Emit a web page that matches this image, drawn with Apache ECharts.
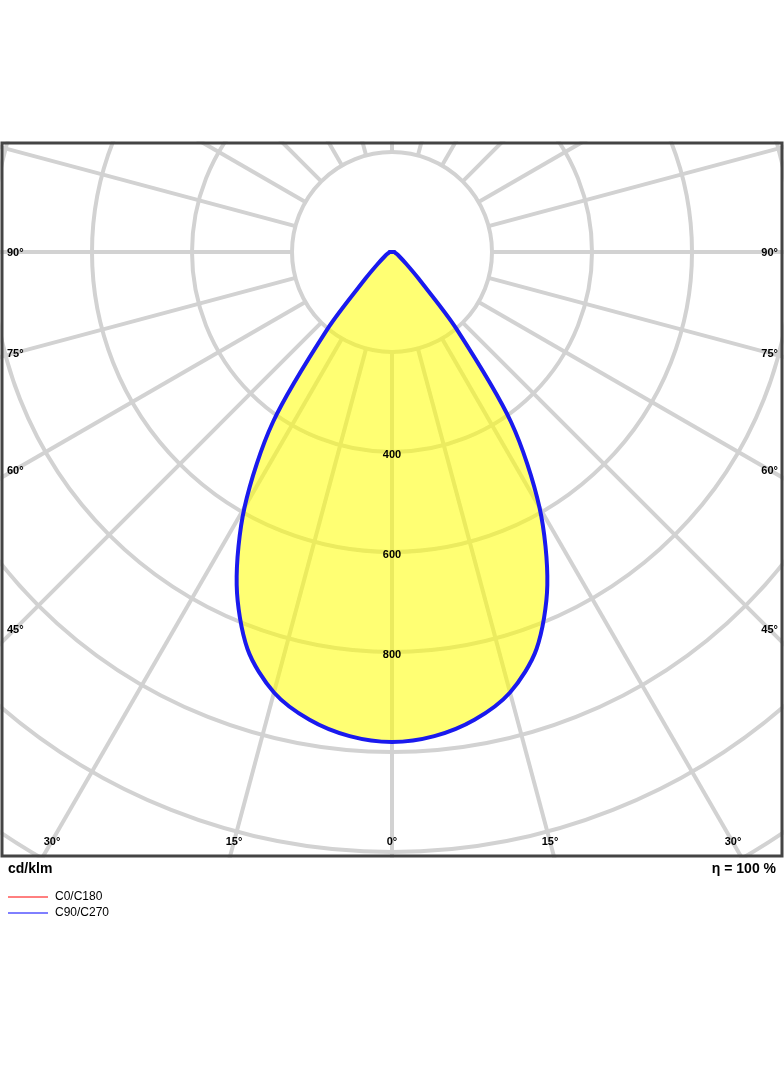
<!DOCTYPE html>
<html>
<head>
<meta charset="utf-8">
<script src="https://cdn.jsdelivr.net/npm/echarts@6/dist/echarts.min.js"></script>
<style>
  html, body { margin: 0; padding: 0; background: #fff; }
  #chart { width: 784px; height: 1066px; }
</style>
</head>
<body>
<div id="chart"></div>
<script>
// 光强分布 (cd/klm)，角度从竖直向下算起
const angles = [0, 5, 10, 15, 20, 25, 30, 35, 40, 45, 50, 60, 70, 80, 90];
const c90Values = [980, 972, 950, 912, 845, 735, 590, 415, 200, 75, 38, 16, 9, 6, 5];
const radiusLabels = [400, 600, 800];
const spokeAngles = [0, 15, 30, 45, 60, 75, 90, 105, 120, 135, 150, 165, 180, 195, 210, 225, 240, 255, 270, 285, 300, 315, 330, 345];
// 边框上的角度标签
const sideLabels = [['90°', 253], ['75°', 354], ['60°', 471], ['45°', 630]];
const bottomLabels = [['30°', 52], ['15°', 234], ['0°', 392], ['15°', 550], ['30°', 733]];

const chart = echarts.init(document.getElementById('chart'));
const font = 'Liberation Sans, Arial, sans-serif';
const gridColor = '#d2d2d2';

// 曲线两侧对称：左侧 a，右侧 360 - a
const curve = [];
for (let i = angles.length - 1; i >= 0; i--) curve.push([c90Values[i], angles[i]]);
for (let i = 1; i < angles.length; i++) curve.push([c90Values[i], 360 - angles[i]]);

const graphics = [
  // 边框外遮罩
  { type: 'rect', z: 100, shape: { x: 0, y: 0, width: 784, height: 141.5 }, style: { fill: '#fff' } },
  { type: 'rect', z: 100, shape: { x: 0, y: 857.5, width: 784, height: 210 }, style: { fill: '#fff' } },
  { type: 'rect', z: 100, shape: { x: 0, y: 0, width: 0.5, height: 1066 }, style: { fill: '#fff' } },
  { type: 'rect', z: 100, shape: { x: 783.5, y: 0, width: 1, height: 1066 }, style: { fill: '#fff' } },
  { type: 'rect', z: 101, shape: { x: 2, y: 143, width: 780, height: 713 }, style: { fill: 'none', stroke: '#444', lineWidth: 3 } },
  { type: 'text', z: 101, left: 8, top: 862, style: { text: 'cd/klm', font: 'bold 14px ' + font, fill: '#000' } },
  { type: 'text', z: 101, right: 8, top: 862, style: { text: 'η = 100 %', font: 'bold 14px ' + font, fill: '#000' } },
  { type: 'line', z: 101, shape: { x1: 8, y1: 897, x2: 48, y2: 897 }, style: { stroke: '#ff0000', lineWidth: 1 } },
  { type: 'text', z: 101, left: 55, top: 891, style: { text: 'C0/C180', font: '12px ' + font, fill: '#000' } },
  { type: 'line', z: 101, shape: { x1: 8, y1: 913, x2: 48, y2: 913 }, style: { stroke: '#0000ff', lineWidth: 1 } },
  { type: 'text', z: 101, left: 55, top: 907, style: { text: 'C90/C270', font: '12px ' + font, fill: '#000' } }
];
sideLabels.forEach(([t, y]) => {
  graphics.push({ type: 'text', z: 101, x: 7, y: y, style: { text: t, font: 'bold 11px ' + font, fill: '#000', textVerticalAlign: 'middle' } });
  graphics.push({ type: 'text', z: 101, x: 778, y: y, style: { text: t, font: 'bold 11px ' + font, fill: '#000', textAlign: 'right', textVerticalAlign: 'middle' } });
});
bottomLabels.forEach(([t, x]) => {
  graphics.push({ type: 'text', z: 101, x: x, y: 842, style: { text: t, font: 'bold 11px ' + font, fill: '#000', textAlign: 'center', textVerticalAlign: 'middle' } });
});

const option = {
  animation: false,
  polar: { center: [392, 252], radius: 800 },
  angleAxis: {
    type: 'value', min: 0, max: 360, startAngle: -90, clockwise: true,
    axisLine: { show: false }, axisTick: { show: false }, axisLabel: { show: false }, splitLine: { show: false }
  },
  radiusAxis: {
    type: 'value', min: 0, max: 1600, interval: 200,
    axisLine: { show: false }, axisTick: { show: false }, axisLabel: { show: false },
    splitLine: { show: true, lineStyle: { color: gridColor, width: 4 } }
  },
  series: [
    {
      // 径向线，从内圈开始
      type: 'custom', coordinateSystem: 'polar', silent: true,
      data: spokeAngles.map(a => [200, a]),
      renderItem: function (params, api) {
        const a = api.value(1);
        const p1 = api.coord([200, a]);
        const p2 = api.coord([1600, a]);
        return { type: 'line', shape: { x1: p1[0], y1: p1[1], x2: p2[0], y2: p2[1] }, style: { stroke: gridColor, lineWidth: 4 } };
      }
    },
    {
      type: 'custom', coordinateSystem: 'polar', silent: true, z: 5,
      data: curve,
      renderItem: function (params, api) {
        if (params.dataIndex !== 0) return;
        const pts = curve.map(d => api.coord(d));
        return {
          type: 'polygon', shape: { points: pts, smooth: 0.3 },
          style: { fill: 'rgba(255,255,0,0.55)', stroke: '#1a1aee', lineWidth: 4, lineJoin: 'round' }
        };
      }
    },
    {
      type: 'custom', coordinateSystem: 'polar', silent: true, z: 6,
      data: radiusLabels.map(v => [v, 0]),
      renderItem: function (params, api) {
        const p = api.coord([api.value(0), 0]);
        return { type: 'text', x: p[0], y: p[1] + 3, style: { text: String(api.value(0)), font: 'bold 11px ' + font, fill: '#000', textAlign: 'center', textVerticalAlign: 'middle' } };
      }
    }
  ],
  graphic: graphics
};
chart.setOption(option);
</script>
</body>
</html>
